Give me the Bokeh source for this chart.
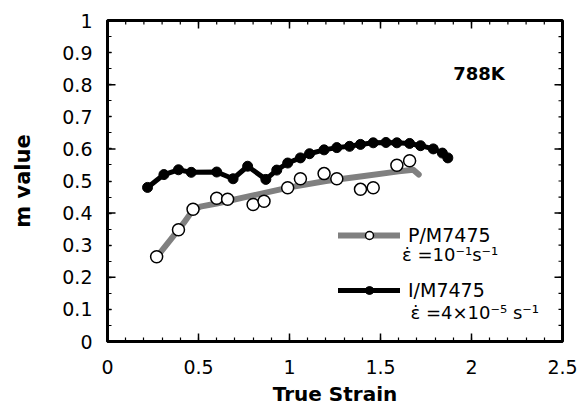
import math
from bokeh.plotting import figure
from bokeh.models import (Range1d, LinearAxis, FixedTicker, CustomJSTickFormatter,
                          Legend, LegendItem, Label)
from bokeh.embed import file_html
from bokeh.resources import INLINE

# --- data ---------------------------------------------------------------
im_strain = [0.22, 0.31, 0.39, 0.46, 0.60, 0.69, 0.77, 0.87, 0.93, 0.99, 1.06, 1.11,
             1.19, 1.26, 1.33, 1.39, 1.46, 1.53, 1.59, 1.66, 1.72, 1.79, 1.84, 1.87]
im_m = [0.48, 0.52, 0.535, 0.527, 0.528, 0.507, 0.546, 0.505, 0.534, 0.556, 0.572, 0.585,
        0.597, 0.604, 0.608, 0.614, 0.619, 0.62, 0.619, 0.617, 0.61, 0.60, 0.587, 0.572]

pm_strain = [0.27, 0.39, 0.47, 0.60, 0.66, 0.80, 0.86, 0.99, 1.06, 1.19, 1.26, 1.39, 1.46, 1.59, 1.66]
pm_m = [0.264, 0.348, 0.412, 0.446, 0.443, 0.427, 0.437, 0.479, 0.507, 0.523, 0.507, 0.474,
        0.479, 0.549, 0.563]

pm_fit_strain = [0.28, 0.35, 0.42, 0.47, 0.51, 0.60, 0.80, 1.00, 1.20, 1.40, 1.60, 1.68, 1.71]
pm_fit_m = [0.27, 0.32, 0.37, 0.41, 0.42, 0.43, 0.455, 0.48, 0.50, 0.515, 0.53, 0.535, 0.52]

x_major = [0, 0.5, 1.0, 1.5, 2.0, 2.5]
x_minor = [round(i * 0.1, 1) for i in range(26)]
y_labels = [round(i * 0.1, 1) for i in range(11)]
y_long = [0.2, 0.4, 0.6, 0.8]
y_minor = [round(i * 0.05, 2) for i in range(21)]

FONT = "DejaVu Sans"

p = figure(width=588, height=408, output_backend="svg", toolbar_location=None,
           x_range=Range1d(0, 2.5), y_range=Range1d(0, 1),
           min_border_left=107, min_border_right=26, min_border_top=20, min_border_bottom=65,
           x_axis_type=None, y_axis_type=None)
p.xgrid.visible = False
p.ygrid.visible = False
p.outline_line_color = "black"
p.outline_line_width = 3

fmt = CustomJSTickFormatter(code="return String(Math.round(tick*10)/10);")

def style_axis(ax):
    ax.axis_line_color = "black"
    ax.axis_line_width = 3
    ax.major_tick_line_color = "black"
    ax.minor_tick_line_color = "black"
    ax.major_tick_line_width = 1.5
    ax.minor_tick_line_width = 1.2
    ax.major_tick_out = 0
    ax.minor_tick_out = 0
    ax.minor_tick_in = 4
    ax.major_label_text_font = FONT
    ax.major_label_text_font_size = "19px"
    ax.major_label_text_color = "black"
    ax.axis_label_text_font = FONT
    ax.axis_label_text_font_size = "20px"
    ax.axis_label_text_font_style = "bold"
    ax.axis_label_text_color = "black"

xb = LinearAxis(ticker=FixedTicker(ticks=x_major, minor_ticks=x_minor), formatter=fmt,
                axis_label="True Strain")
style_axis(xb)
xb.major_tick_in = 8
xb.major_label_standoff = 18
xb.axis_label_standoff = 5
p.add_layout(xb, "below")

yl = LinearAxis(ticker=FixedTicker(ticks=y_labels, minor_ticks=y_minor), formatter=fmt,
                axis_label="m value")
style_axis(yl)
yl.axis_label_text_font_size = "21px"
yl.major_tick_in = 4
yl.major_label_standoff = 15
yl.axis_label_standoff = 24
p.add_layout(yl, "left")

# longer ticks at every 0.2 on the left axis
p.ray(x=[0] * len(y_long), y=y_long, length=8, length_units="screen", angle=0,
      line_color="black", line_width=1.5)
# ticks along the top edge
p.ray(x=x_minor, y=[1] * len(x_minor), length=4, length_units="screen", angle=-math.pi / 2,
      line_color="black", line_width=1.2)
p.ray(x=x_major, y=[1] * len(x_major), length=8, length_units="screen", angle=-math.pi / 2,
      line_color="black", line_width=1.5)
# ticks along the right edge
p.ray(x=[2.5] * len(y_minor), y=y_minor, length=4, length_units="screen", angle=math.pi,
      line_color="black", line_width=1.2)
p.ray(x=[2.5] * len(y_long), y=y_long, length=8, length_units="screen", angle=math.pi,
      line_color="black", line_width=1.5)

# --- series -------------------------------------------------------------
pm_line = p.line(pm_fit_strain, pm_fit_m, line_color="#808080", line_width=6, line_cap="round",
                 line_join="round")
pm_pts = p.scatter(pm_strain, pm_m, marker="circle", size=12, fill_color="white",
                   line_color="black", line_width=1.5)

im_line = p.line(im_strain, im_m, line_color="black", line_width=5, line_cap="round",
                 line_join="round")
im_pts = p.scatter(im_strain, im_m, marker="circle", size=10, fill_color="black",
                   line_color="black")

legend = Legend(items=[LegendItem(label="P/M7475", renderers=[pm_line, pm_pts]),
                       LegendItem(label="I/M7475", renderers=[im_line, im_pts])],
                location=(231, 40), glyph_width=62, glyph_height=20, label_standoff=8,
                spacing=33, padding=0, margin=0, border_line_alpha=0,
                background_fill_alpha=0, label_text_font=FONT, label_text_font_size="19px",
                label_text_color="black")
p.add_layout(legend)

p.add_layout(Label(x=1.618, y=0.272, text="\u03b5\u0307 =10\u207b\u00b9s\u207b\u00b9",
                   text_baseline="middle", text_font=FONT, text_font_size="18px",
                   text_color="black"))
p.add_layout(Label(x=1.665, y=0.09, text="\u03b5\u0307 =4\u00d710\u207b\u2075 s\u207b\u00b9",
                   text_baseline="middle", text_font=FONT, text_font_size="18px",
                   text_color="black"))
p.add_layout(Label(x=1.90, y=0.836, text="788K", text_baseline="middle",
                   text_font=FONT, text_font_size="18px", text_font_style="bold",
                   text_color="black"))

open("out.html", "w").write(file_html(p, INLINE))
